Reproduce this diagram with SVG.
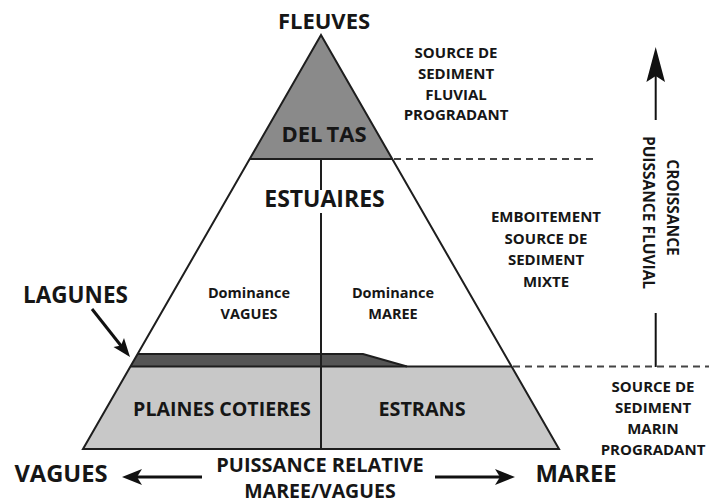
<svg xmlns="http://www.w3.org/2000/svg" width="709" height="504" viewBox="0 0 709 504">
<defs>
<style>
text{font-family:"Open Sans","Liberation Sans",sans-serif;font-weight:700;fill:#161616;text-anchor:middle}
.ln{stroke:#1e1e1e;stroke-width:2;fill:none}
.dash{stroke:#444;stroke-width:2;stroke-dasharray:7 5;fill:none}
.arr{stroke:#111;stroke-width:3;fill:none}
.head{fill:#111}
.s15{font-size:15px}
</style>
</defs>
<rect width="709" height="504" fill="#fff"/>
<g id="bottom-zone">
<polygon points="130.4,366.5 511.6,366.5 559,449 83,449" fill="#c8c8c8"/>
</g>
<g id="deltas">
<polygon points="321,35 392.3,159 249.7,159" fill="#8a8a8a"/>
<text x="324" y="142" font-size="22">DEL<tspan dx="4">TAS</tspan></text>
</g>
<g id="lagunes-band">
<polygon points="137.6,354 363,354 407,366.5 130.4,366.5" fill="#555"/>
<polyline class="ln" points="137.6,354 363,354 407,366.5"/>
</g>
<g id="triangle">
<polygon class="ln" points="321,35 559,449 83,449"/>
<line class="ln" x1="249.7" y1="159" x2="392.3" y2="159"/>
<line class="ln" x1="130.4" y1="366.5" x2="511.6" y2="366.5"/>
<line class="ln" x1="321" y1="159" x2="321" y2="190"/>
<line class="ln" x1="321" y1="213" x2="321" y2="449"/>
</g>
<g id="fleuves"><text x="324" y="29" font-size="22">FLEUVES</text></g>
<g id="estuaires"><text x="324.5" y="206.5" font-size="23">ESTUAIRES</text></g>
<g id="dom-vagues"><text x="249" y="298" font-size="14.5">Dominance</text><text x="249" y="319" font-size="14.5">VAGUES</text></g>
<g id="dom-maree"><text x="393" y="298" font-size="14.5">Dominance</text><text x="393" y="319" font-size="14.5">MAREE</text></g>
<g id="plaines"><text x="222" y="416" font-size="19.6">PLAINES COTIERES</text></g>
<g id="estrans"><text x="422" y="416" font-size="19.8">ESTRANS</text></g>
<g id="lagunes"><text x="75.5" y="303" font-size="22.5">LAGUNES</text></g>
<g id="src-fluvial" class="s15">
<text x="456" y="58">SOURCE DE</text><text x="456" y="78.5">SEDIMENT</text><text x="456" y="99.5">FLUVIAL</text><text x="456" y="120">PROGRADANT</text>
</g>
<g id="src-mixte" class="s15">
<text x="546" y="222">EMBOITEMENT</text><text x="546" y="243.5">SOURCE DE</text><text x="546" y="265">SEDIMENT</text><text x="546" y="286.5">MIXTE</text>
</g>
<g id="src-marin" class="s15">
<text x="653" y="392">SOURCE DE</text><text x="653" y="413">SEDIMENT</text><text x="653" y="434">MARIN</text><text x="653" y="455">PROGRADANT</text>
</g>
<g id="vagues"><text x="61" y="482" font-size="23.7">VAGUES</text></g>
<g id="maree"><text x="576" y="482" font-size="23.8">MAREE</text></g>
<g id="puissance"><text x="320" y="472" font-size="20">PUISSANCE RELATIVE</text><text x="320" y="497.5" font-size="19.5">MAREE/VAGUES</text></g>
<g id="croissance">
<text transform="translate(667,207.5) rotate(90)" font-size="15.5">CROISSANCE</text>
<text transform="translate(643,212.5) rotate(90)" font-size="15.5">PUISSANCE FLUVIAL</text>
</g>
<g id="connectors">
<line class="dash" x1="394" y1="159" x2="598" y2="159"/>
<line class="dash" x1="513" y1="366.5" x2="709" y2="366.5"/>
<line class="arr" x1="202" y1="477" x2="136" y2="477"/>
<polygon class="head" points="122,477 142,469 137,477 142,485"/>
<line class="arr" x1="435" y1="477" x2="501" y2="477"/>
<polygon class="head" points="515,477 495,469 500,477 495,485"/>
<line class="arr" x1="92" y1="309" x2="122" y2="347"/>
<polygon class="head" points="130,357 113.5,347 121,345.5 124,338"/>
<line x1="655.7" y1="120" x2="655.7" y2="75" stroke="#111" stroke-width="2"/>
<polygon class="head" points="655.7,47 665,82 655.7,76 646.4,82"/>
<line x1="655.7" y1="313" x2="655.7" y2="367" stroke="#111" stroke-width="2"/>
</g>
</svg>
